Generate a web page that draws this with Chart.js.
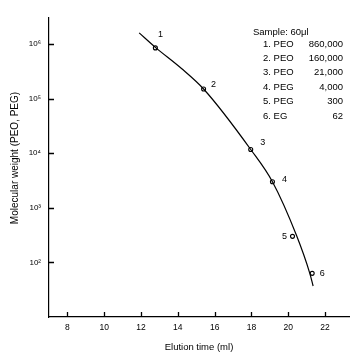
<!DOCTYPE html>
<html>
<head>
<meta charset="utf-8">
<script src="https://cdn.jsdelivr.net/npm/chart.js@4/dist/chart.umd.min.js"></script>
<style>
  html, body { margin: 0; padding: 0; background: #fff; }
  #wrap { width: 364px; height: 363px; }
</style>
</head>
<body>
<div id="wrap"><canvas id="chart"></canvas></div>
<script>
// calibration samples
const sampleNames = ["1", "2", "3", "4", "5", "6"];
const elution = [12.78, 15.4, 17.96, 19.14, 20.23, 21.3];
const molWeight = [850000, 150000, 11700, 3000, 300, 63];

// fitted calibration curve
const curveX = [11.9, 12.78, 14.2, 15.4, 17.96, 19.14, 20.45, 21.17, 21.35];
const curveY = [1600000, 870000, 356000, 150000, 11700, 3000, 310, 63, 37];

const xTicks = [8, 10, 12, 14, 16, 18, 20, 22];
const yTicks = [100, 1000, 10000, 100000, 1000000];
const sup = { 2: "\u00b2", 3: "\u00b3", 4: "\u2074", 5: "\u2075", 6: "\u2076" };

// legend block (text only)
const legendTitle = "Sample: 60\u03bcl";
const legendNames = ["1. PEO", "2. PEO", "3. PEO", "4. PEG", "5. PEG", "6. EG"];
const legendValues = ["860,000", "160,000", "21,000", "4,000", "300", "62"];

// offsets of the number labels next to each sample marker
const labelOffsets = [[5, -13], [10, -5], [12, -7], [12, -2], [-8, 0], [10, 0]];

const FONT = "'Liberation Sans', Arial, Helvetica, sans-serif";

// inward tick marks + text annotations
const annotations = {
  id: "annotations",
  afterDraw(chart) {
    const ctx = chart.ctx;
    const xs = chart.scales.x, ys = chart.scales.y;
    const area = chart.chartArea;
    ctx.save();
    ctx.strokeStyle = "#000";
    ctx.lineWidth = 1.3;
    ctx.beginPath();
    xTicks.forEach(v => {
      const px = Math.round(xs.getPixelForValue(v)) + 0.5;
      ctx.moveTo(px, area.bottom);
      ctx.lineTo(px, area.bottom - 5);
    });
    yTicks.forEach(v => {
      const py = Math.round(ys.getPixelForValue(v)) + 0.5;
      ctx.moveTo(area.left, py);
      ctx.lineTo(area.left + 5, py);
    });
    ctx.stroke();

    ctx.fillStyle = "#000";
    ctx.font = "9px " + FONT;
    ctx.textAlign = "center";
    ctx.textBaseline = "middle";
    sampleNames.forEach((n, i) => {
      const px = xs.getPixelForValue(elution[i]) + labelOffsets[i][0];
      const py = ys.getPixelForValue(molWeight[i]) + labelOffsets[i][1];
      ctx.fillText(n, px, py);
    });

    ctx.font = "9.5px " + FONT;
    ctx.textAlign = "left";
    ctx.fillText(legendTitle, 253, 32);
    legendNames.forEach((t, i) => {
      const y = 44 + i * 14.4;
      ctx.textAlign = "left";
      ctx.fillText(t, 263, y);
      ctx.textAlign = "right";
      ctx.fillText(legendValues[i], 343, y);
    });

    // y title sits a bit above the middle of the axis in the original
    ctx.translate(15, 158);
    ctx.rotate(-Math.PI / 2);
    ctx.textAlign = "center";
    ctx.font = "10px " + FONT;
    ctx.fillText("Molecular weight (PEO, PEG)", 0, 0);
    ctx.restore();
  }
};

new Chart(document.getElementById("chart"), {
  type: "scatter",
  data: {
    datasets: [
      {
        type: "line",
        data: curveX.map((x, i) => ({ x, y: curveY[i] })),
        borderColor: "#000",
        borderWidth: 1.2,
        pointRadius: 0,
        fill: false,
        cubicInterpolationMode: "monotone"
      },
      {
        data: elution.map((x, i) => ({ x, y: molWeight[i] })),
        pointRadius: 2,
        pointBackgroundColor: "#fff",
        pointBorderColor: "#000",
        pointBorderWidth: 1.1,
        showLine: false
      }
    ]
  },
  plugins: [annotations],
  options: {
    responsive: true,
    maintainAspectRatio: false,
    animation: false,
    layout: { padding: { top: 18, right: 15, left: 0, bottom: 0 } },
    plugins: {
      legend: { display: false },
      tooltip: { enabled: false }
    },
    scales: {
      x: {
        type: "linear",
        min: 7,
        max: 23.3,
        afterBuildTicks: s => { s.ticks = xTicks.map(v => ({ value: v })); },
        afterFit: s => { s.height = 46; },
        border: { display: true, color: "#000", width: 1.2 },
        grid: { drawOnChartArea: false, drawTicks: false },
        ticks: { color: "#000", padding: 6, font: { family: FONT, size: 8.5 }, maxRotation: 0 },
        title: {
          display: true,
          text: "Elution time (ml)",
          color: "#000",
          font: { family: FONT, size: 9.5 },
          padding: { top: 0, bottom: 10 }
        }
      },
      y: {
        type: "logarithmic",
        min: 10,
        max: 3000000,
        afterBuildTicks: s => { s.ticks = yTicks.map(v => ({ value: v })); },
        afterFit: s => { s.width = 49; },
        border: { display: true, color: "#000", width: 1.2 },
        grid: { drawOnChartArea: false, drawTicks: false },
        ticks: {
          color: "#000",
          padding: 8,
          font: { family: FONT, size: 8 },
          callback: v => "10" + sup[Math.round(Math.log10(v))]
        },
        title: { display: false }
      }
    }
  }
});
</script>
</body>
</html>
